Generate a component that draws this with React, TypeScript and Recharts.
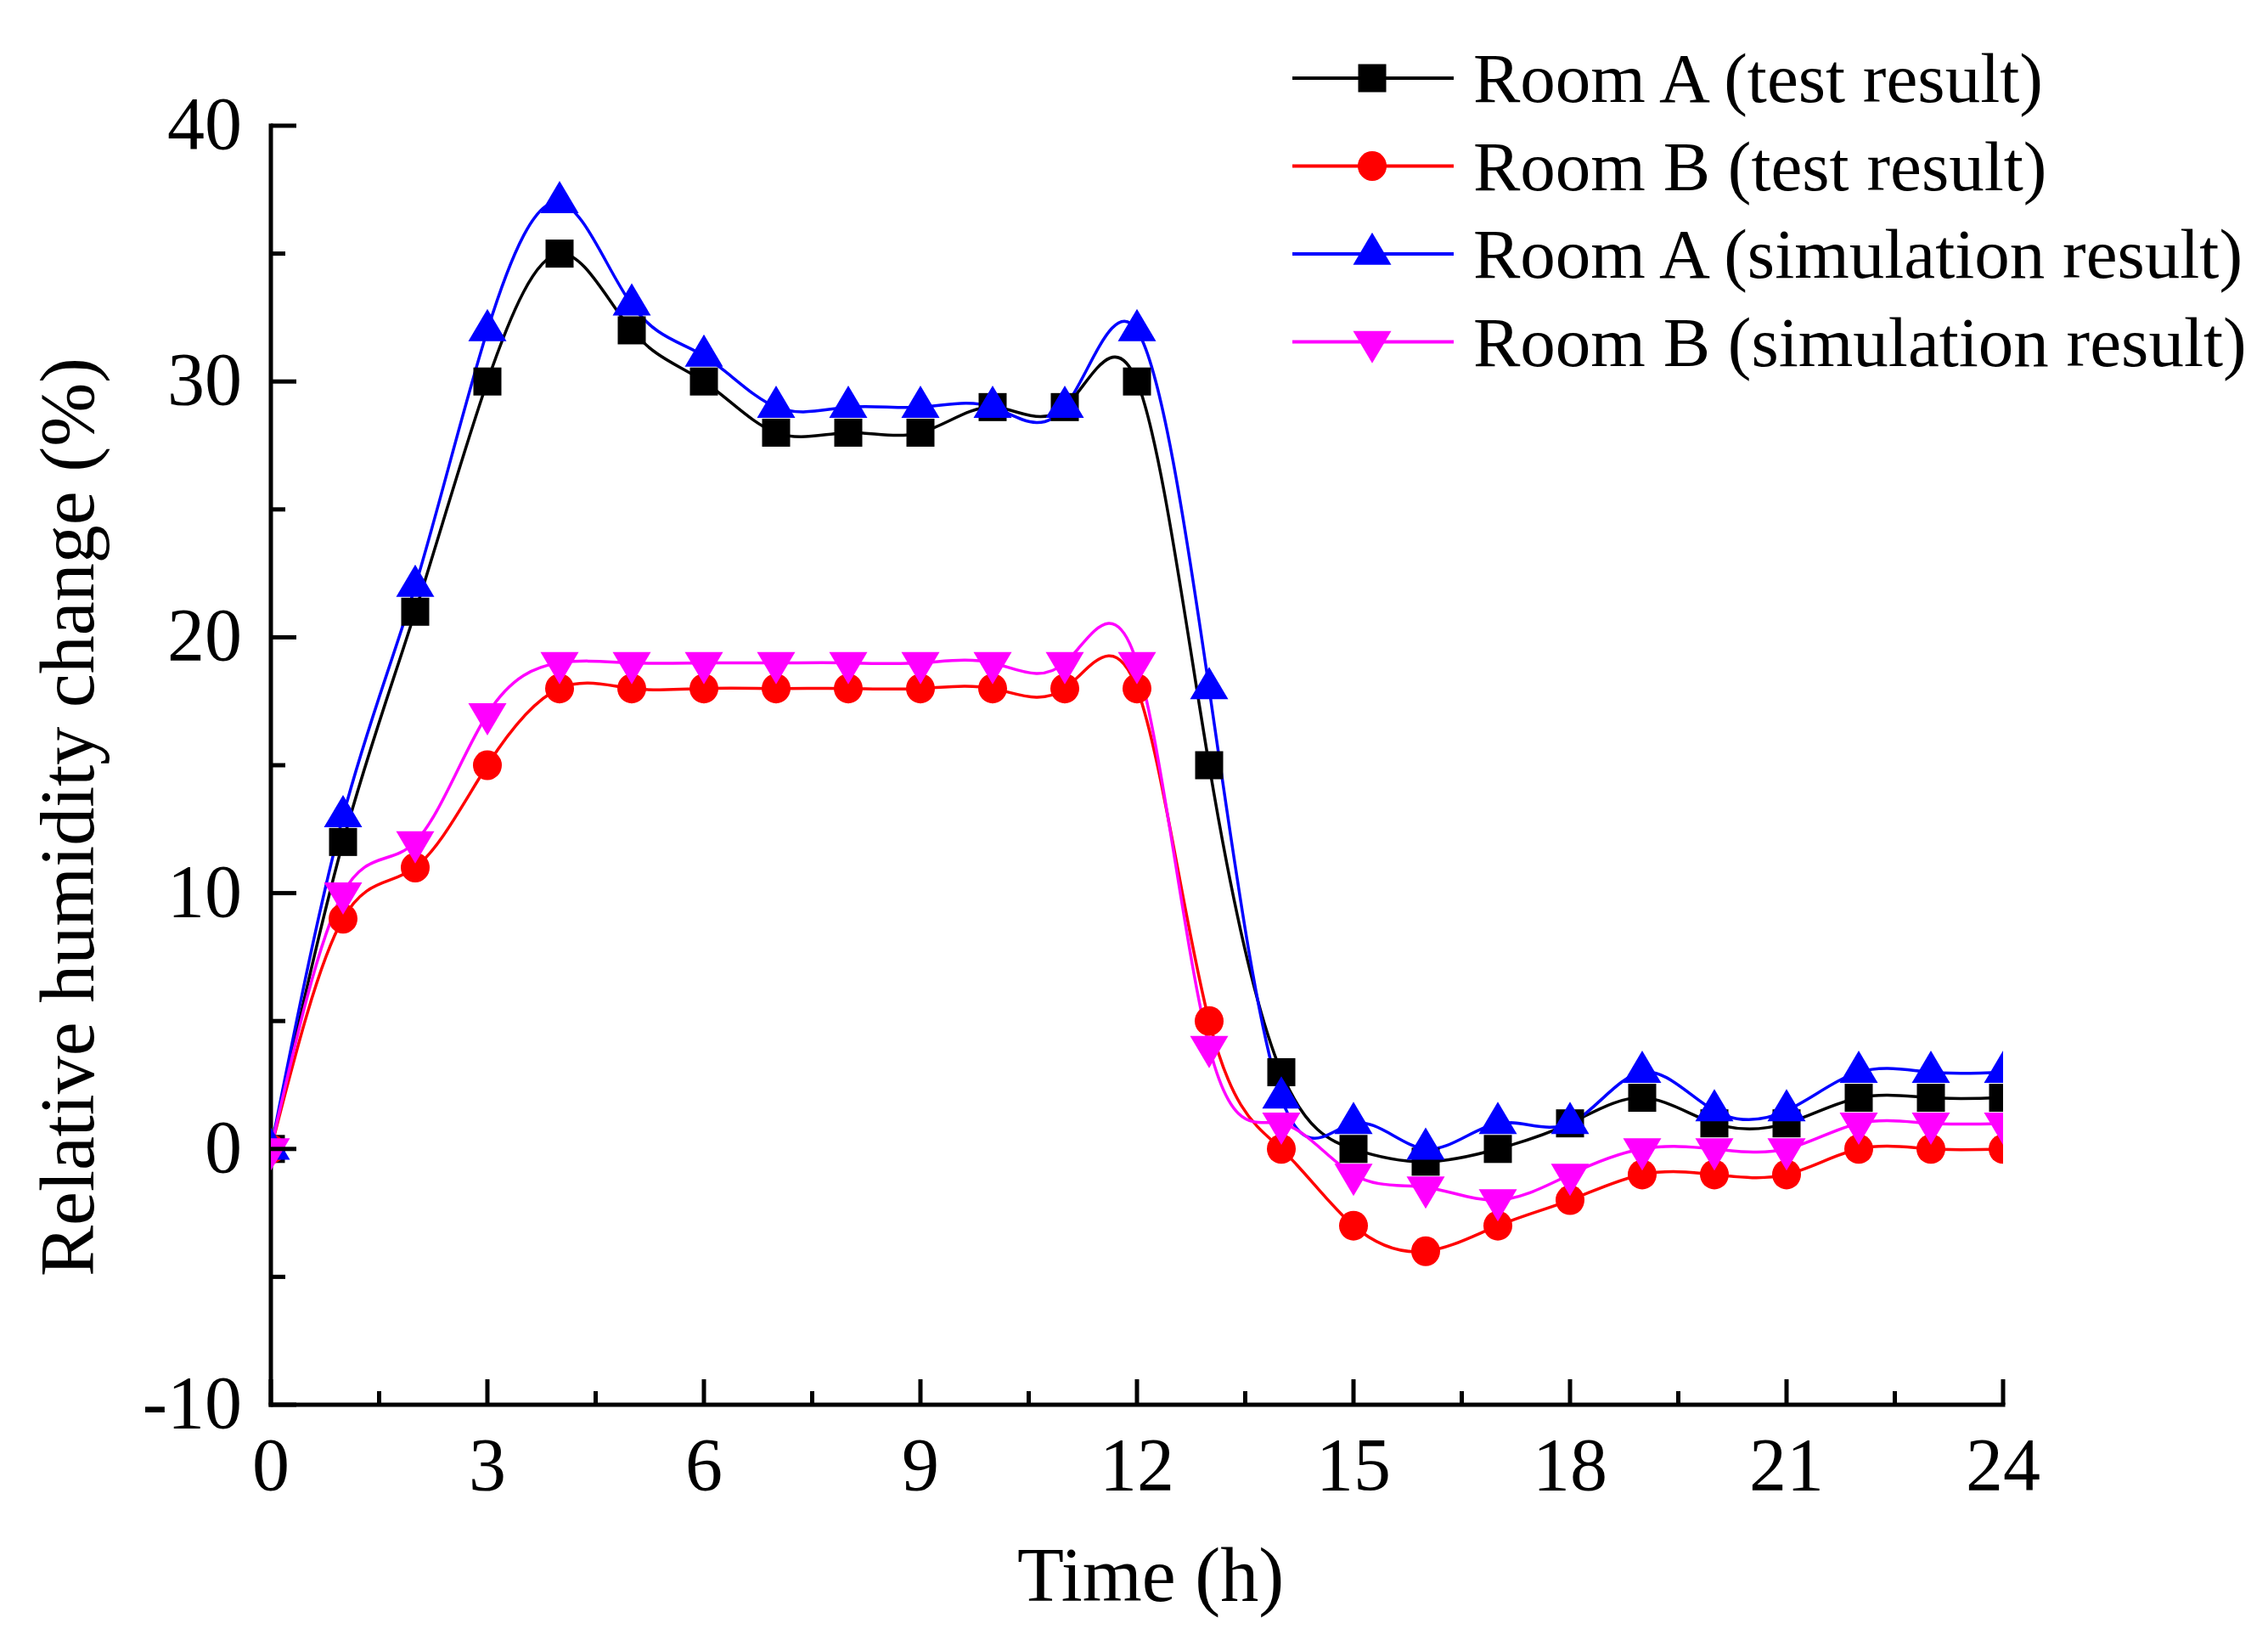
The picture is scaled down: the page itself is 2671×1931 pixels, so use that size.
import React from 'react';
import { LineChart, Line, XAxis, YAxis, Legend, Label } from 'recharts';

const hours = [0, 1, 2, 3, 4, 5, 6, 7, 8, 9, 10, 11, 12, 13, 14, 15, 16, 17, 18, 19, 20, 21, 22, 23, 24];
const roomATest = [0, 12, 21, 30, 35, 32, 30, 28, 28, 28, 29, 29, 30, 15, 3, 0, -0.5, 0, 1, 2, 1, 1, 2, 2, 2];
const roomBTest = [0, 9, 11, 15, 18, 18, 18, 18, 18, 18, 18, 18, 18, 5, 0, -3, -4, -3, -2, -1, -1, -1, 0, 0, 0];
const roomASim = [0, 13, 22, 32, 37, 33, 31, 29, 29, 29, 29, 29, 32, 18, 2, 1, 0, 1, 1, 3, 1.5, 1.5, 3, 3, 3];
const roomBSim = [0, 10, 12, 17, 19, 19, 19, 19, 19, 19, 19, 19, 19, 4, 1, -1, -1.5, -2, -1, 0, 0, 0, 1, 1, 1];

const xTicks = [0, 1.5, 3, 4.5, 6, 7.5, 9, 10.5, 12, 13.5, 15, 16.5, 18, 19.5, 21, 22.5, 24];
const yTicks = [-10, -5, 0, 5, 10, 15, 20, 25, 30, 35, 40];

const keys = ['aTest', 'bTest', 'aSim', 'bSim'];
const seriesNames = {
  aTest: 'Room A (test result)',
  bTest: 'Room B (test result)',
  aSim: 'Room A (simulation result)',
  bSim: 'Room B (simulation result)',
};
const seriesColors = { aTest: '#000000', bTest: '#ff0000', aSim: '#0000ff', bSim: '#ff00ff' };
const seriesShapes = { aTest: 'square', bTest: 'circle', aSim: 'up', bSim: 'down' };

const data = hours.map((t, i) => ({
  t,
  aTest: roomATest[i],
  bTest: roomBTest[i],
  aSim: roomASim[i],
  bSim: roomBSim[i],
}));

const FONT = '"Liberation Serif", "Times New Roman", serif';

function Marker({ shape, cx, cy, color }) {
  if (shape === 'square') {
    return <rect x={cx - 16.5} y={cy - 16.5} width={33} height={33} fill={color} />;
  }
  if (shape === 'circle') {
    return <ellipse cx={cx} cy={cy} rx={17} ry={17.5} fill={color} />;
  }
  const w = 45;
  const h = 38;
  if (shape === 'up') {
    const pts = `${cx - w / 2},${cy + h / 3} ${cx + w / 2},${cy + h / 3} ${cx},${cy - (2 * h) / 3}`;
    return <polygon points={pts} fill={color} />;
  }
  const pts = `${cx - w / 2},${cy - h / 3} ${cx + w / 2},${cy - h / 3} ${cx},${cy + (2 * h) / 3}`;
  return <polygon points={pts} fill={color} />;
}

const makeDot = (key) => (props) => {
  const { cx, cy, index } = props;
  if (cx == null || cy == null) return <g key={`${key}-${index}`} />;
  return (
    <g key={`${key}-${index}`}>
      <Marker shape={seriesShapes[key]} cx={cx} cy={cy} color={seriesColors[key]} />
    </g>
  );
};

const YTick = (props) => {
  const { x, y, payload } = props;
  const v = payload.value;
  const major = v % 10 === 0;
  return (
    <g>
      <line x1={x} x2={x + (major ? 30 : 17)} y1={y} y2={y} stroke="#000" strokeWidth={5} />
      {major && (
        <text x={x - 34} y={y + 27} textAnchor="end" fontFamily={FONT} fontSize={88} fill="#000">
          {v}
        </text>
      )}
    </g>
  );
};

const XTick = (props) => {
  const { x, y, payload } = props;
  const v = payload.value;
  const major = v % 3 === 0;
  return (
    <g>
      <line x1={x} x2={x} y1={y} y2={y - (major ? 30 : 16)} stroke="#000" strokeWidth={5} />
      {major && (
        <text x={x} y={y + 100} textAnchor="middle" fontFamily={FONT} fontSize={88} fill="#000">
          {v}
        </text>
      )}
    </g>
  );
};

const XTitle = (props) => {
  const { viewBox } = props;
  const cx = viewBox.x + viewBox.width / 2 + 16;
  return (
    <text x={cx} y={1885} textAnchor="middle" fontFamily={FONT} fontSize={90} fill="#000">
      Time (h)
    </text>
  );
};

const YTitle = () => {
  const x = 110;
  const y = 962;
  return (
    <text
      x={x}
      y={y}
      transform={`rotate(-90, ${x}, ${y})`}
      textAnchor="middle"
      fontFamily={FONT}
      fontSize={90}
      fill="#000"
    >
      Relative humidity change (%)
    </text>
  );
};

const LegendContent = (props) => {
  const { payload } = props;
  const rows = [...(payload || [])].sort(
    (a, b) => keys.indexOf(a.dataKey) - keys.indexOf(b.dataKey)
  );
  return (
    <svg width={1160} height={440} style={{ display: 'block', overflow: 'visible' }}>
      {rows.map((entry, i) => {
        const key = entry.dataKey;
        const y = 52 + i * 103.5;
        const color = seriesColors[key] || entry.color;
        return (
          <g key={key}>
            <line x1={22} x2={212} y1={y} y2={y} stroke={color} strokeWidth={4} />
            <Marker shape={seriesShapes[key]} cx={116} cy={y} color={color} />
            <text x={235} y={y + 28} fontFamily={FONT} fontSize={83} fill="#000">
              {entry.value}
            </text>
          </g>
        );
      })}
    </svg>
  );
};

export default function App() {
  return (
    <div style={{ position: 'absolute', left: 0, top: 0, width: 2671, height: 1931, background: '#fff' }}>
      <LineChart
        width={2671}
        height={1931}
        data={data}
        margin={{ top: 148, right: 312, bottom: 0, left: 0 }}
      >
        <XAxis
          dataKey="t"
          type="number"
          domain={[0, 24]}
          ticks={xTicks}
          interval={0}
          allowDataOverflow
          height={277}
          tickSize={0}
          tickMargin={0}
          tickLine={false}
          axisLine={{ stroke: '#000', strokeWidth: 5, strokeLinecap: 'square' }}
          tick={XTick}
          label={<Label content={XTitle} />}
        />
        <YAxis
          type="number"
          domain={[-10, 40]}
          ticks={yTicks}
          interval={0}
          allowDataOverflow
          width={319}
          tickSize={0}
          tickMargin={0}
          tickLine={false}
          axisLine={{ stroke: '#000', strokeWidth: 5, strokeLinecap: 'square' }}
          tick={YTick}
          label={<Label content={YTitle} />}
        />
        <Legend
          layout="vertical"
          align="center"
          verticalAlign="middle"
          content={LegendContent}
          wrapperStyle={{ left: 1500, top: 40, width: 1160, height: 440 }}
        />
        {keys.map((k) => (
          <Line
            key={k}
            dataKey={k}
            name={seriesNames[k]}
            type="natural"
            stroke={seriesColors[k]}
            strokeWidth={3.5}
            dot={makeDot(k)}
            activeDot={false}
            isAnimationActive={false}
          />
        ))}
      </LineChart>
    </div>
  );
}
